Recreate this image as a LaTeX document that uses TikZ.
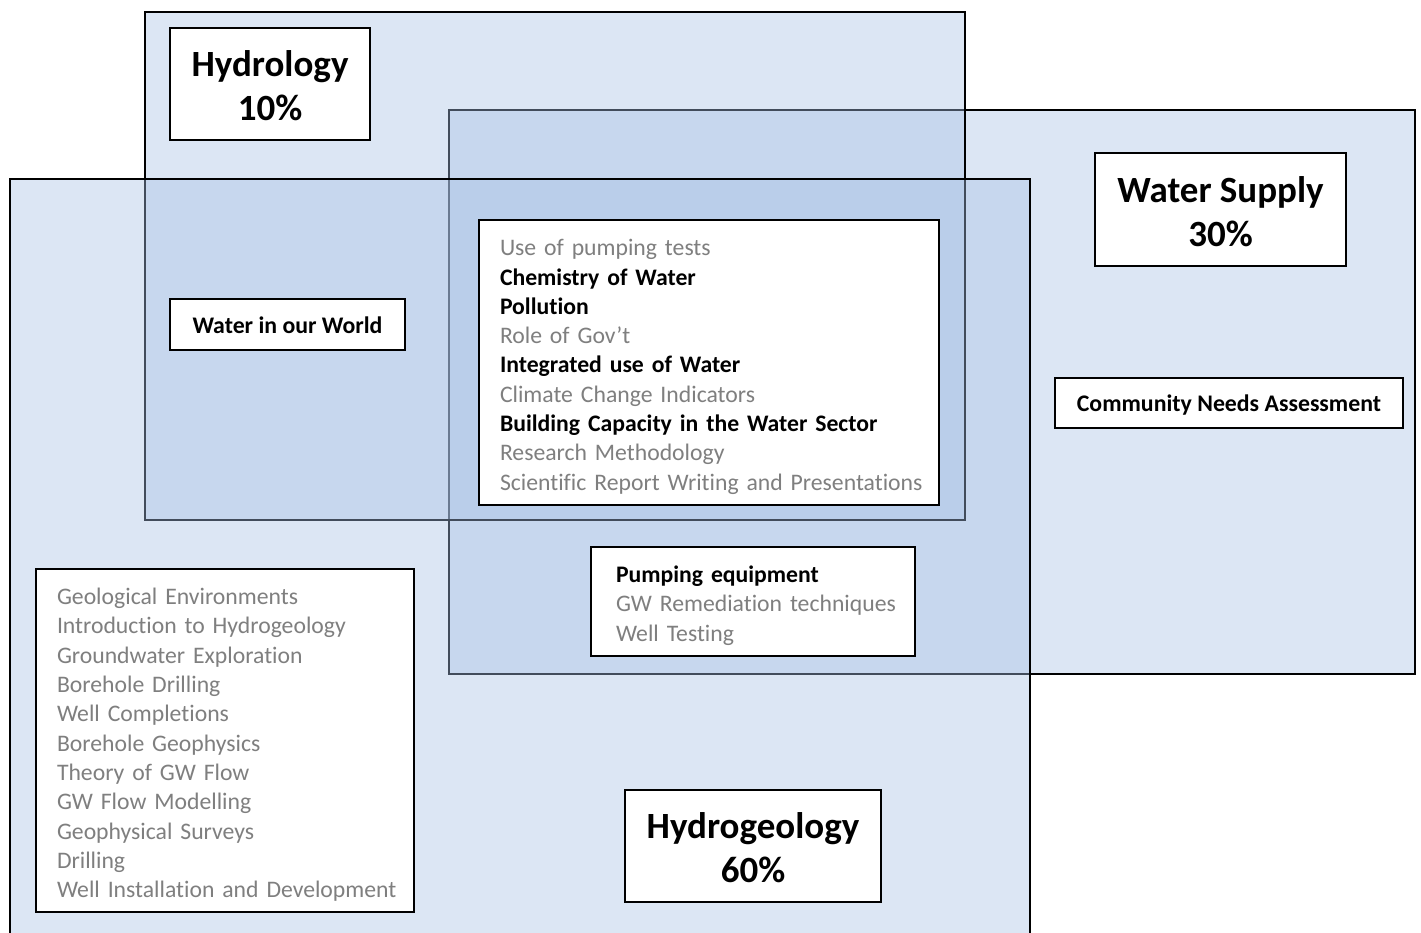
\documentclass[tikz,border=0pt]{standalone}
\usepackage{fontspec}
\setmainfont{Carlito}[Ligatures=NoCommon]
\newfontfamily\listfont{Carlito}[Ligatures=NoCommon, WordSpace=0.8]
\definecolor{venn}{RGB}{167,192,228}
\definecolor{softtext}{RGB}{127,127,127}
\tikzset{
  area/.style={fill=venn, fill opacity=0.4, draw=black, line width=1.4pt, inner sep=0pt, outer sep=0pt},
  box/.style={draw=black, fill=white, line width=1.8pt, inner sep=0pt, outer sep=0pt},
  titletext/.style={box, font=\fontsize{37}{44}\selectfont\bfseries, align=center},
  labeltext/.style={box, font=\fontsize{23.8}{29.3}\selectfont\bfseries, align=center},
  listtext/.style={box, font=\listfont\fontsize{23.7}{29.3}\selectfont, align=left, inner xsep=21pt},
}
\newcommand{\soft}[1]{\mbox{\textcolor{softtext}{#1}}}
\newcommand{\hard}[1]{\mbox{\textbf{#1}}}
\newcommand{\lead}{\rule{0pt}{25pt}}
\newcommand{\leadt}{\rule{0pt}{30pt}}
\begin{document}
\begin{tikzpicture}[x=1pt,y=-1pt]
\useasboundingbox (0,0) rectangle (1421,932);
% big areas
\node[area, minimum width=966pt, minimum height=564pt] (supply) at (932,392) {};
\node[area, minimum width=820pt, minimum height=508pt] (hydrology) at (555,266) {};
\node[area, minimum width=1020pt, minimum height=756pt] (hydrogeology) at (520,557) {};
% titles
\node[titletext, minimum width=200pt, minimum height=112pt] (thydro) at (270,84) {\leadt Hydrology\\10\%};
\node[titletext, minimum width=251pt, minimum height=113pt] (tsupply) at (1220.5,209.5) {\leadt Water Supply\\30\%};
\node[titletext, minimum width=256pt, minimum height=112pt] (tgeo) at (753,846) {\leadt Hydrogeology\\60\%};
% single labels
\node[labeltext, minimum width=235pt, minimum height=51pt] (world) at (287.5,324.5) {\rule{0pt}{19pt}Water in our World};
\node[labeltext, minimum width=348pt, minimum height=50pt] (community) at (1229,403) {\rule{0pt}{20pt}Community Needs Assessment};
% lists
\node[listtext, text width=418pt, minimum height=285pt] (core) at (709,362.5) {%
\lead\soft{Use of pumping tests}\\
\hard{Chemistry of Water}\\
\hard{Pollution}\\
\soft{Role of Gov’t}\\
\hard{Integrated use of Water}\\
\soft{Climate Change Indicators}\\
\hard{Building Capacity in the Water Sector}\\
\soft{Research Methodology}\\
\soft{Scientific Report Writing and Presentations}};
\node[listtext, inner xsep=25pt, text width=274pt, minimum height=109pt] (pumping) at (753,601.5) {%
\lead\hard{Pumping equipment}\\
\soft{GW Remediation techniques}\\
\soft{Well Testing}};
\node[listtext, text width=336pt, minimum height=343pt] (geolist) at (225,740.5) {%
\lead\soft{Geological Environments}\\
\soft{Introduction to Hydrogeology}\\
\soft{Groundwater Exploration}\\
\soft{Borehole Drilling}\\
\soft{Well Completions}\\
\soft{Borehole Geophysics}\\
\soft{Theory of GW Flow}\\
\soft{GW Flow Modelling}\\
\soft{Geophysical Surveys}\\
\soft{Drilling}\\
\soft{Well Installation and Development}};
\end{tikzpicture}
\end{document}
